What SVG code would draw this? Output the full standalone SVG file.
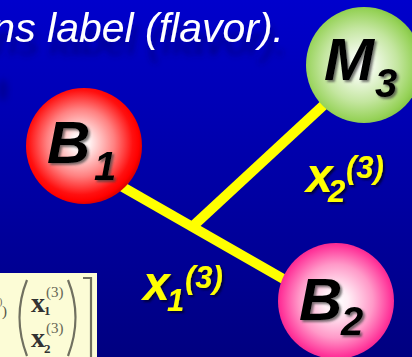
<svg xmlns="http://www.w3.org/2000/svg" width="412" height="357" viewBox="0 0 412 357">
<defs>
<linearGradient id="bg" x1="0" y1="0" x2="0" y2="1">
<stop offset="0" stop-color="#0000CC"/>
<stop offset="1" stop-color="#000080"/>
</linearGradient>
<radialGradient id="gRed" cx="0.47" cy="0.47" r="0.53">
<stop offset="0" stop-color="#FFFFFF"/>
<stop offset="0.15" stop-color="#FFF2F2"/>
<stop offset="0.55" stop-color="#FF8080"/>
<stop offset="0.85" stop-color="#FF1010"/>
<stop offset="0.95" stop-color="#FF0000"/>
<stop offset="1" stop-color="#E00000"/>
</radialGradient>
<radialGradient id="gGreen" cx="0.47" cy="0.5" r="0.53">
<stop offset="0" stop-color="#FFFFFF"/>
<stop offset="0.2" stop-color="#F2FAEA"/>
<stop offset="0.6" stop-color="#C4E6A0"/>
<stop offset="0.9" stop-color="#96D258"/>
<stop offset="1" stop-color="#84C445"/>
</radialGradient>
<radialGradient id="gPink" cx="0.5" cy="0.5" r="0.53">
<stop offset="0" stop-color="#FFFFFF"/>
<stop offset="0.2" stop-color="#FFEFF6"/>
<stop offset="0.6" stop-color="#FF99C8"/>
<stop offset="0.9" stop-color="#FF3399"/>
<stop offset="1" stop-color="#E82287"/>
</radialGradient>
<filter id="blur" x="-50%" y="-50%" width="200%" height="200%">
<feGaussianBlur stdDeviation="3"/>
</filter>
<filter id="titleSh" x="-10%" y="-30%" width="120%" height="180%">
<feDropShadow dx="3" dy="13" stdDeviation="3" flood-color="#000040" flood-opacity="0.45"/>
</filter>
<filter id="sh" x="-20%" y="-20%" width="150%" height="150%">
<feDropShadow dx="2" dy="2" stdDeviation="1" flood-color="#404040" flood-opacity="0.7"/>
</filter>
<filter id="shY" x="-20%" y="-20%" width="150%" height="150%">
<feDropShadow dx="2" dy="2" stdDeviation="0.8" flood-color="#000030" flood-opacity="0.9"/>
</filter>
</defs>
<style>
.title{font-family:"Liberation Sans",Arial,sans-serif;font-style:italic;font-size:41px;fill:#FFFFFF}
.node{font-family:"Liberation Sans",Arial,sans-serif;font-style:italic;font-weight:bold;fill:#000000;font-size:60px}
.sub{font-size:40px}
.lab{font-family:"Liberation Sans",Arial,sans-serif;font-style:italic;font-weight:bold;fill:#FFFF00;font-size:48px}
.ls{font-size:31px}
.conn{stroke:#FFFF00;stroke-width:10;fill:none}
.fm{font-family:"Liberation Serif","Times New Roman",serif;fill:#333333}
.delim{stroke:#707060;stroke-width:2.2;fill:none}
</style>
<rect x="0" y="0" width="412" height="357" fill="url(#bg)"/>

<g id="title">
<ellipse cx="3" cy="90" rx="5" ry="11" fill="#000060" opacity="0.35" filter="url(#blur)"/>
<text class="title" x="284" y="42" text-anchor="end" filter="url(#titleSh)">ns label (flavor).</text>
</g>

<g id="connectors">
<line class="conn" x1="100" y1="174" x2="300" y2="288.5"/>
<line class="conn" x1="192" y1="227" x2="340" y2="90"/>
</g>

<g id="node-B1">
<circle cx="84" cy="146" r="58" fill="url(#gRed)"/>
<text class="node" x="47" y="163" filter="url(#sh)">B<tspan class="sub" x="94" y="180">1</tspan></text>
</g>

<g id="node-M3">
<circle cx="364" cy="65" r="58" fill="url(#gGreen)"/>
<text class="node" x="324" y="80" filter="url(#sh)">M<tspan class="sub" x="375" y="97">3</tspan></text>
</g>

<g id="node-B2">
<circle cx="336" cy="301" r="58" fill="url(#gPink)"/>
<text class="node" x="299" y="320" filter="url(#sh)">B<tspan class="sub" x="341" y="335">2</tspan></text>
</g>

<g id="label-x2">
<text class="lab" x="306" y="192" filter="url(#shY)">x<tspan class="ls" x="328" y="202">2</tspan><tspan class="ls" x="346" y="178">(3)</tspan></text>
</g>

<g id="label-x1">
<text class="lab" x="143" y="300" filter="url(#shY)">x<tspan class="ls" x="167" y="311">1</tspan><tspan class="ls" x="185" y="288">(3)</tspan></text>
</g>

<g id="formula">
<rect x="0" y="273" width="97" height="84" fill="#FCFCD6"/>
<text class="fm" x="-1" y="305" font-size="10" style="fill:#666655">)<tspan x="2" y="316" font-size="15" style="fill:#555545">)</tspan></text>
<path class="delim" d="M27,280 Q12,317 27,356"/>
<path class="delim" d="M68,280 Q83,317 68,356"/>
<path class="delim" d="M83,278 H91 V357"/>
<text class="fm" x="31" y="312" font-size="28" font-weight="bold">x<tspan x="44" y="315" font-size="13">1</tspan><tspan x="46" y="297" font-size="15" font-weight="normal" style="fill:#666655">(3)</tspan></text>
<text class="fm" x="31" y="347" font-size="28" font-weight="bold">x<tspan x="44" y="353" font-size="13">2</tspan><tspan x="46" y="333" font-size="15" font-weight="normal" style="fill:#666655">(3)</tspan></text>
</g>
</svg>
